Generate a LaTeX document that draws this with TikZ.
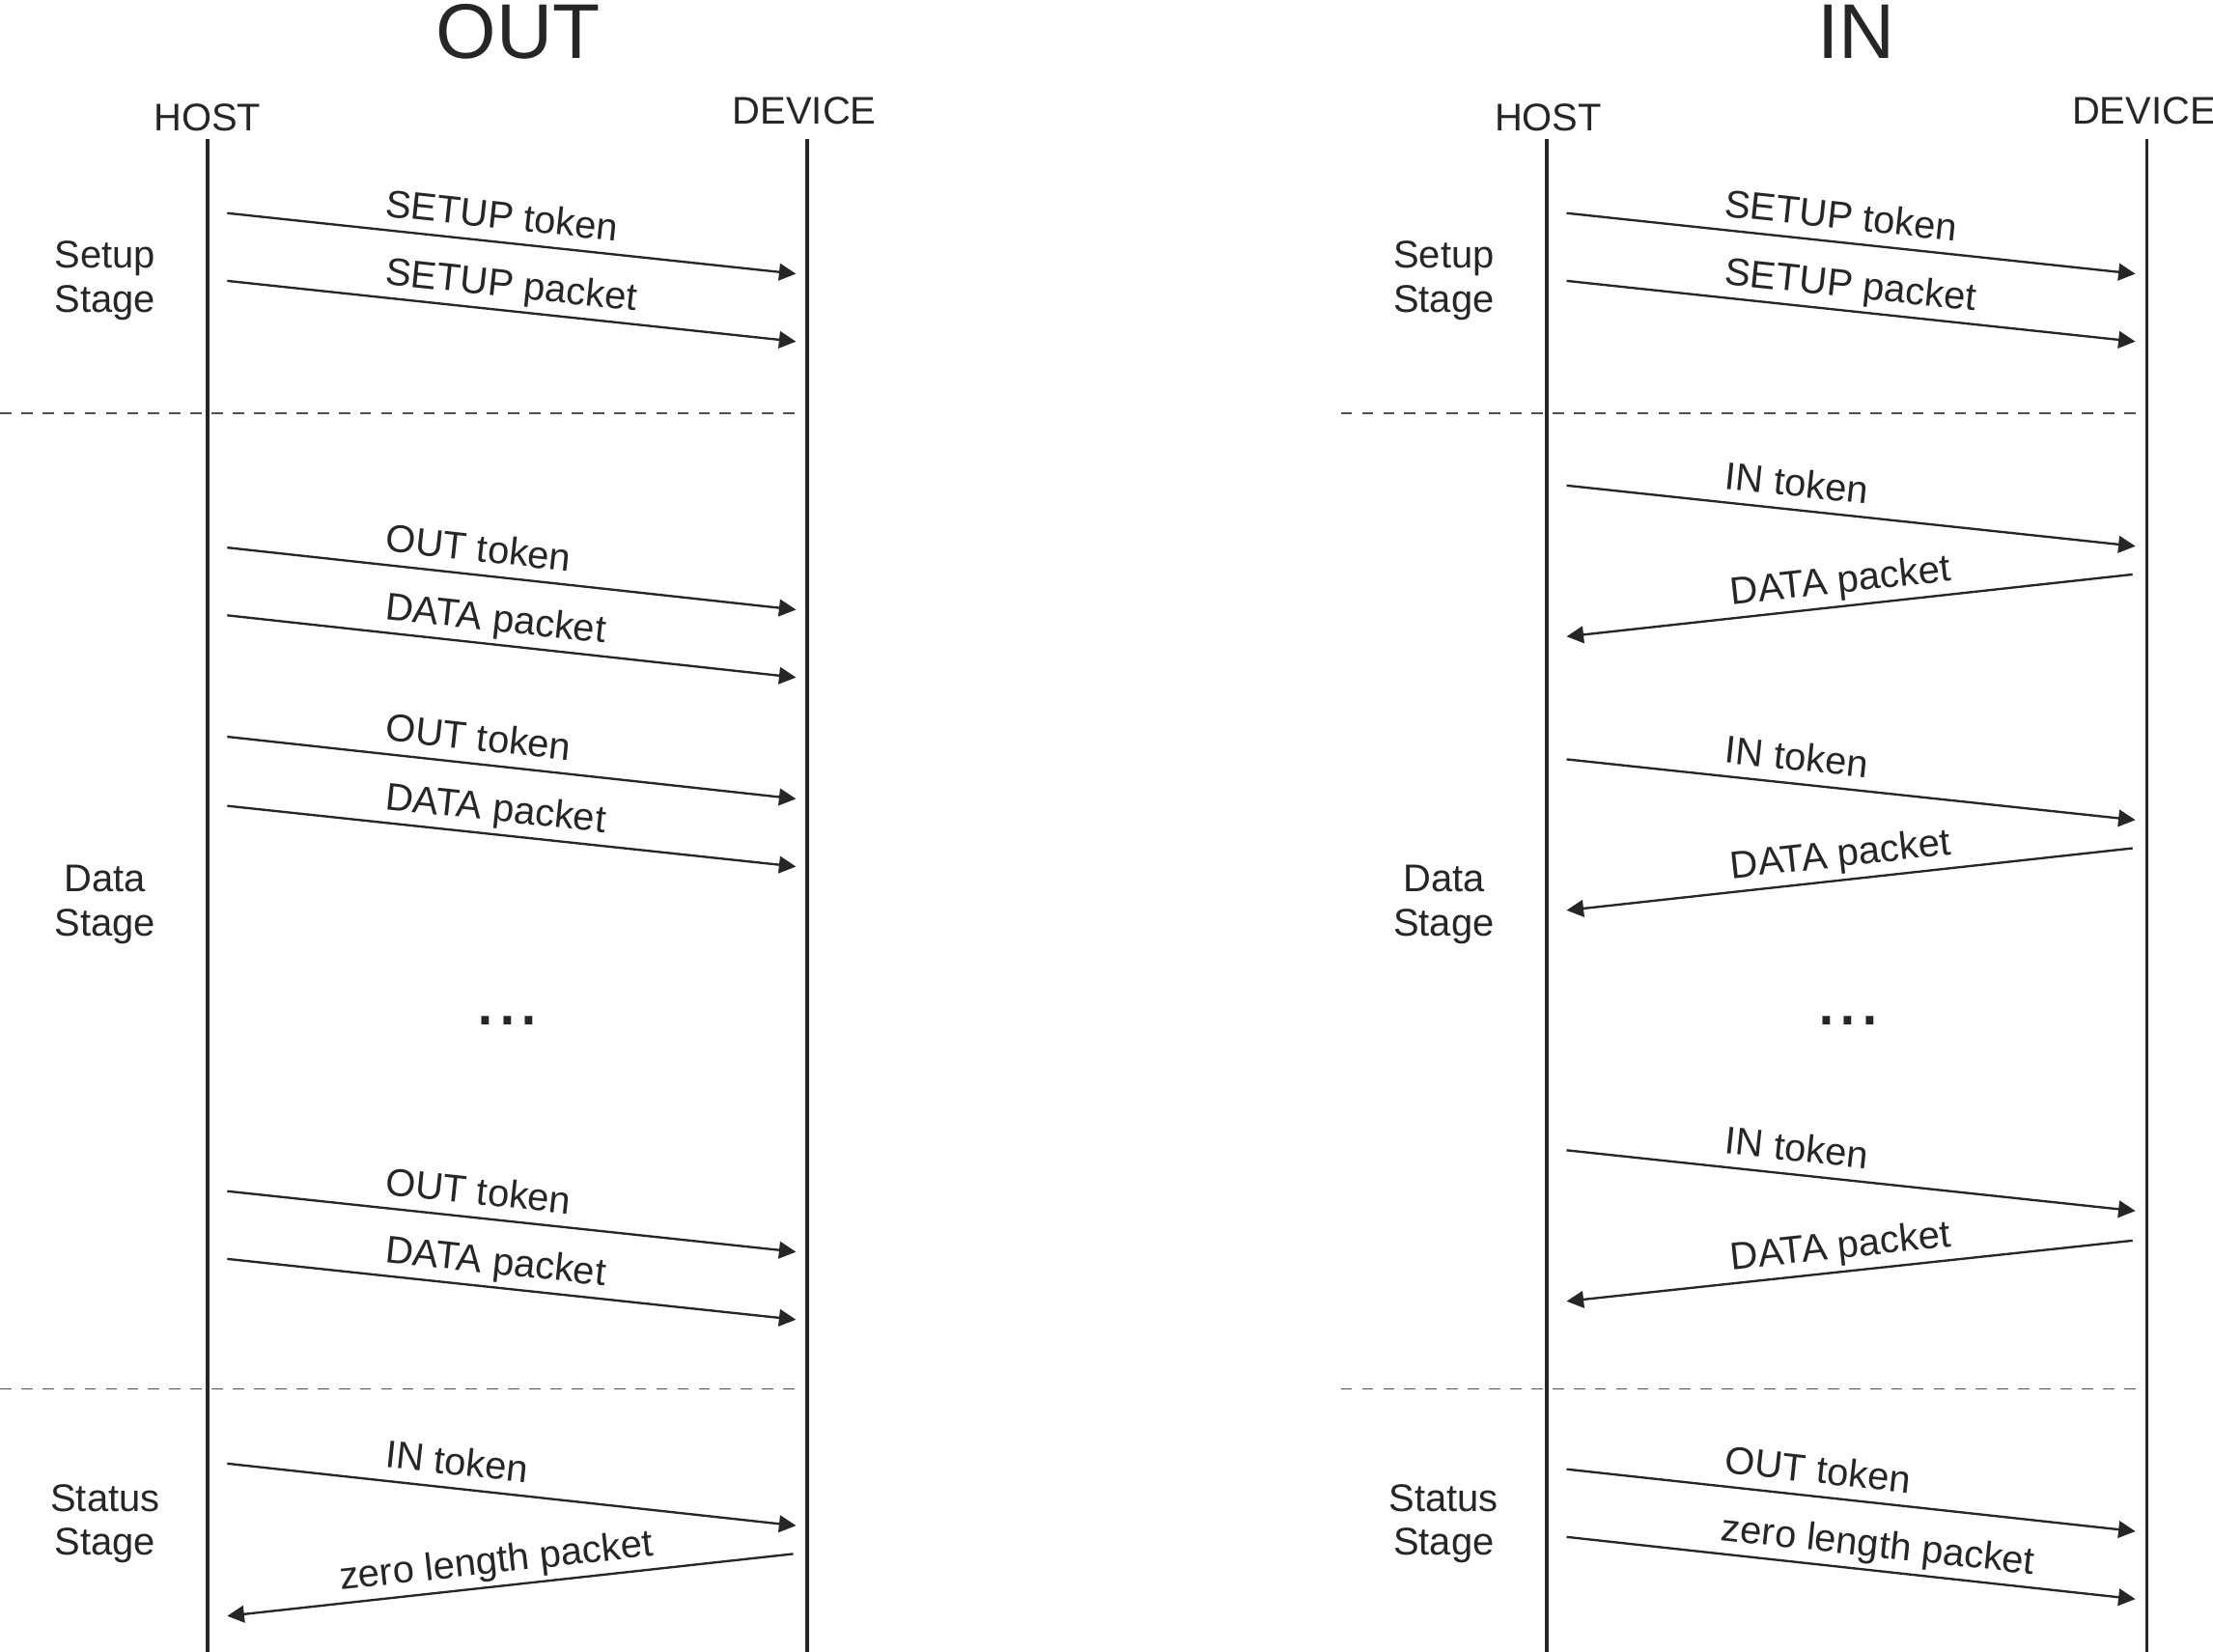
\documentclass[tikz,border=0pt]{standalone}
\usepackage{fontspec}
\setmainfont{Liberation Sans}
\usetikzlibrary{arrows.meta}
\definecolor{ink}{HTML}{262626}
\definecolor{dashc}{HTML}{505050}
\begin{document}
\begin{tikzpicture}[x=1pt,y=-1pt,
  lifeline/.style={line width=2.4pt, draw=ink},
  msg/.style={line width=1.6pt, draw=ink, -{Triangle[length=12pt,width=12pt]}},
  stagebar/.style={line width=1.1pt, draw=dashc, dash pattern=on 8pt off 7pt},
  lbl/.style={font=\fontsize{27.3}{31}\selectfont, text=ink, inner sep=0pt, outer sep=0pt},
  titlelbl/.style={font=\fontsize{55}{60}\selectfont, text=ink, inner sep=0pt, anchor=base},
  actorlbl/.style={lbl, anchor=base},
  msglblR/.style={lbl, sloped, pos=0.274, anchor=base west},
  msglblL/.style={lbl, sloped, pos=0.515, anchor=base},
  stagelbl/.style={lbl, align=center, anchor=base},
  dotslbl/.style={font=\fontsize{56}{60}\selectfont, text=ink, inner sep=0pt, anchor=base}]
\useasboundingbox (0,0) rectangle (1568,1170);
\fill[white] (0,0) rectangle (1568,1170);

%================ OUT =================
\node[titlelbl] (tOut) at (367,41.5) {OUT};
\node[actorlbl] (hOut) at (147,92.6) {HOST};
\node[actorlbl] (dOut) at (570,88) {DEVICE};
\coordinate (hOutTop) at (147,98.5); \coordinate (hOutBot) at (147,1172);
\coordinate (dOutTop) at (572,98.5); \coordinate (dOutBot) at (572,1172);
\draw[lifeline] (hOutTop) -- (hOutBot);
\draw[lifeline] (dOutTop) -- (dOutBot);

\coordinate (bOut1a) at (0,293); \coordinate (bOut1b) at (568,293);
\coordinate (bOut2a) at (0,984); \coordinate (bOut2b) at (568,984);
\draw[stagebar] (bOut1a) -- (bOut1b);
\draw[stagebar] (bOut2a) -- (bOut2b);

\node[stagelbl] (sOut1) at (74.5,221) {Setup\\Stage};
\node[stagelbl] (sOut2) at (74.5,663) {Data\\Stage};
\node[stagelbl] (sOut3) at (74.5,1102) {Status\\Stage};

\coordinate (o1s) at (161,151);  \coordinate (o1e) at (564,194);
\coordinate (o2s) at (161,199);  \coordinate (o2e) at (564,242);
\coordinate (o3s) at (161,388);  \coordinate (o3e) at (564,432);
\coordinate (o4s) at (161,436);  \coordinate (o4e) at (564,480);
\coordinate (o5s) at (161,522);  \coordinate (o5e) at (564,566);
\coordinate (o6s) at (161,571);  \coordinate (o6e) at (564,614);
\coordinate (o7s) at (161,844);  \coordinate (o7e) at (564,887);
\coordinate (o8s) at (161,892);  \coordinate (o8e) at (564,935);
\coordinate (o9s) at (161,1037); \coordinate (o9e) at (564,1081);
\coordinate (o10s) at (562,1101); \coordinate (o10e) at (161,1145);

\draw[msg] (o1s) -- (o1e) node[msglblR] (lo1) {\raisebox{9.5pt}{SETUP token}};
\draw[msg] (o2s) -- (o2e) node[msglblR] (lo2) {\raisebox{9.5pt}{SETUP packet}};
\draw[msg] (o3s) -- (o3e) node[msglblR] (lo3) {\raisebox{9.5pt}{OUT token}};
\draw[msg] (o4s) -- (o4e) node[msglblR] (lo4) {\raisebox{9.5pt}{DATA packet}};
\draw[msg] (o5s) -- (o5e) node[msglblR] (lo5) {\raisebox{9.5pt}{OUT token}};
\draw[msg] (o6s) -- (o6e) node[msglblR] (lo6) {\raisebox{9.5pt}{DATA packet}};
\draw[msg] (o7s) -- (o7e) node[msglblR] (lo7) {\raisebox{9.5pt}{OUT token}};
\draw[msg] (o8s) -- (o8e) node[msglblR] (lo8) {\raisebox{9.5pt}{DATA packet}};
\draw[msg] (o9s) -- (o9e) node[msglblR] (lo9) {\raisebox{9.5pt}{IN token}};
\draw[msg] (o10s) -- (o10e) node[msglblL, pos=0.52] (lo10) {\raisebox{9.5pt}{zero length packet}};

\node[dotslbl] (dotsOut) at (359.5,726.5) {...};

%================ IN =================
\node[titlelbl] (tIn) at (1315,41.5) {IN};
\node[actorlbl] (hIn) at (1097,92.6) {HOST};
\node[actorlbl] (dIn) at (1519,88) {DEVICE};
\coordinate (hInTop) at (1096,98.5); \coordinate (hInBot) at (1096,1172);
\coordinate (dInTop) at (1521,98.5); \coordinate (dInBot) at (1521,1172);
\draw[lifeline] (hInTop) -- (hInBot);
\draw[lifeline] (dInTop) -- (dInBot);

\coordinate (bIn1a) at (950,293); \coordinate (bIn1b) at (1518,293);
\coordinate (bIn2a) at (950,984); \coordinate (bIn2b) at (1518,984);
\draw[stagebar] (bIn1a) -- (bIn1b);
\draw[stagebar] (bIn2a) -- (bIn2b);

\node[stagelbl] (sIn1) at (1023,221) {Setup\\Stage};
\node[stagelbl] (sIn2) at (1023,663) {Data\\Stage};
\node[stagelbl] (sIn3) at (1023,1102) {Status\\Stage};

\coordinate (i1s) at (1110,151);  \coordinate (i1e) at (1513,194);
\coordinate (i2s) at (1110,199);  \coordinate (i2e) at (1513,242);
\coordinate (i3s) at (1110,344);  \coordinate (i3e) at (1513,387);
\coordinate (i4s) at (1511,407);  \coordinate (i4e) at (1110,451);
\coordinate (i5s) at (1110,538);  \coordinate (i5e) at (1513,581);
\coordinate (i6s) at (1511,601);  \coordinate (i6e) at (1110,645);
\coordinate (i7s) at (1110,815);  \coordinate (i7e) at (1513,858);
\coordinate (i8s) at (1511,879);  \coordinate (i8e) at (1110,922);
\coordinate (i9s) at (1110,1041); \coordinate (i9e) at (1513,1085);
\coordinate (i10s) at (1110,1089); \coordinate (i10e) at (1513,1133);

\draw[msg] (i1s) -- (i1e) node[msglblR] (li1) {\raisebox{9.5pt}{SETUP token}};
\draw[msg] (i2s) -- (i2e) node[msglblR] (li2) {\raisebox{9.5pt}{SETUP packet}};
\draw[msg] (i3s) -- (i3e) node[msglblR] (li3) {\raisebox{9.5pt}{IN token}};
\draw[msg] (i4s) -- (i4e) node[msglblL, pos=0.511] (li4) {\raisebox{9.5pt}{DATA packet}};
\draw[msg] (i5s) -- (i5e) node[msglblR] (li5) {\raisebox{9.5pt}{IN token}};
\draw[msg] (i6s) -- (i6e) node[msglblL, pos=0.511] (li6) {\raisebox{9.5pt}{DATA packet}};
\draw[msg] (i7s) -- (i7e) node[msglblR] (li7) {\raisebox{9.5pt}{IN token}};
\draw[msg] (i8s) -- (i8e) node[msglblL, pos=0.511] (li8) {\raisebox{9.5pt}{DATA packet}};
\draw[msg] (i9s) -- (i9e) node[msglblR] (li9) {\raisebox{9.5pt}{OUT token}};
\draw[msg] (i10s) -- (i10e) node[msglblR, pos=0.268] (li10) {\raisebox{9.5pt}{zero length packet}};

\node[dotslbl] (dotsIn) at (1309.5,726.5) {...};
\end{tikzpicture}
\end{document}
